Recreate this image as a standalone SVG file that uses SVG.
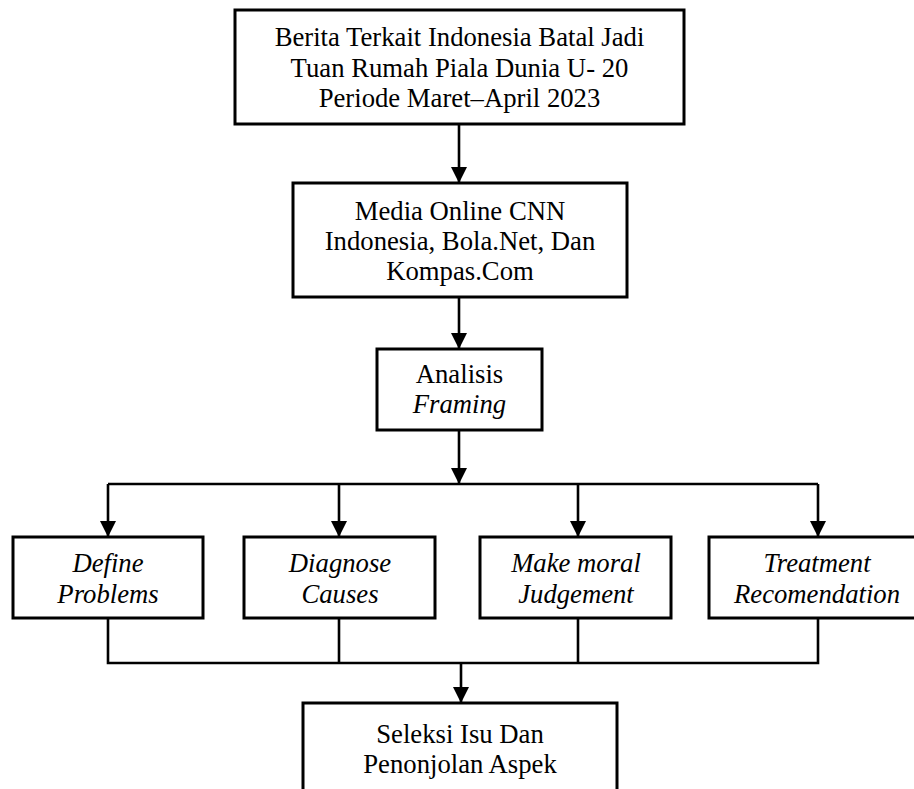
<svg xmlns="http://www.w3.org/2000/svg" width="914" height="789" viewBox="0 0 914 789">
<style>
.box{fill:#fff;stroke:#000;stroke-width:3}
.t{font-family:"Liberation Serif","Times New Roman",serif;font-size:26.7px;fill:#000;text-anchor:middle}
.i{font-style:italic}
.c{fill:none;stroke:#000;stroke-width:2.6}
</style>
<defs>
<marker id="ah" markerUnits="userSpaceOnUse" markerWidth="16" markerHeight="16" refX="16" refY="8" orient="auto" viewBox="0 0 16 16">
<path d="M0,0 L16,8 L0,16 z" fill="#000"/>
</marker>
</defs>
<rect width="914" height="789" fill="#fff"/>
<g id="connectors">
<line class="c" x1="459" y1="124" x2="459" y2="183" marker-end="url(#ah)"/>
<line class="c" x1="459" y1="297" x2="459" y2="349" marker-end="url(#ah)"/>
<line class="c" x1="459" y1="430" x2="459" y2="484" marker-end="url(#ah)"/>
<line class="c" x1="108" y1="484" x2="818" y2="484"/>
<line class="c" x1="108" y1="484" x2="108" y2="537" marker-end="url(#ah)"/>
<line class="c" x1="339" y1="484" x2="339" y2="537" marker-end="url(#ah)"/>
<line class="c" x1="578" y1="484" x2="578" y2="537" marker-end="url(#ah)"/>
<line class="c" x1="818" y1="484" x2="818" y2="537" marker-end="url(#ah)"/>
<polyline class="c" points="108,618 108,663 818,663 818,618"/>
<line class="c" x1="339" y1="618" x2="339" y2="663"/>
<line class="c" x1="578" y1="618" x2="578" y2="663"/>
<line class="c" x1="461" y1="663" x2="461" y2="703" marker-end="url(#ah)"/>
</g>
<g id="berita">
<rect class="box" x="235" y="10" width="449" height="114"/>
<text class="t" x="459.5" y="46">Berita Terkait Indonesia Batal Jadi</text>
<text class="t" x="459.5" y="77">Tuan Rumah Piala Dunia U- 20</text>
<text class="t" x="459.5" y="107">Periode Maret–April 2023</text>
</g>
<g id="media">
<rect class="box" x="293" y="183" width="334" height="114"/>
<text class="t" x="460" y="220">Media Online CNN</text>
<text class="t" x="460" y="250">Indonesia, Bola.Net, Dan</text>
<text class="t" x="460" y="280">Kompas.Com</text>
</g>
<g id="analisis">
<rect class="box" x="377" y="349" width="165" height="81"/>
<text class="t" x="459.5" y="383">Analisis</text>
<text class="t i" x="459.5" y="413">Framing</text>
</g>
<g id="define">
<rect class="box" x="13" y="537" width="190" height="81"/>
<text class="t i" x="108" y="572">Define</text>
<text class="t i" x="108" y="603">Problems</text>
</g>
<g id="diagnose">
<rect class="box" x="244" y="537" width="191" height="81"/>
<text class="t i" x="340" y="572">Diagnose</text>
<text class="t i" x="340" y="603">Causes</text>
</g>
<g id="moral">
<rect class="box" x="480" y="537" width="191" height="81"/>
<text class="t i" x="576" y="572">Make moral</text>
<text class="t i" x="576" y="603">Judgement</text>
</g>
<g id="treatment">
<rect class="box" x="709" y="537" width="218" height="81"/>
<text class="t i" x="817" y="572">Treatment</text>
<text class="t i" x="817" y="603">Recomendation</text>
</g>
<g id="seleksi">
<rect class="box" x="303" y="703" width="314" height="100"/>
<text class="t" x="460" y="743">Seleksi Isu Dan</text>
<text class="t" x="460" y="773">Penonjolan Aspek</text>
</g>
</svg>
